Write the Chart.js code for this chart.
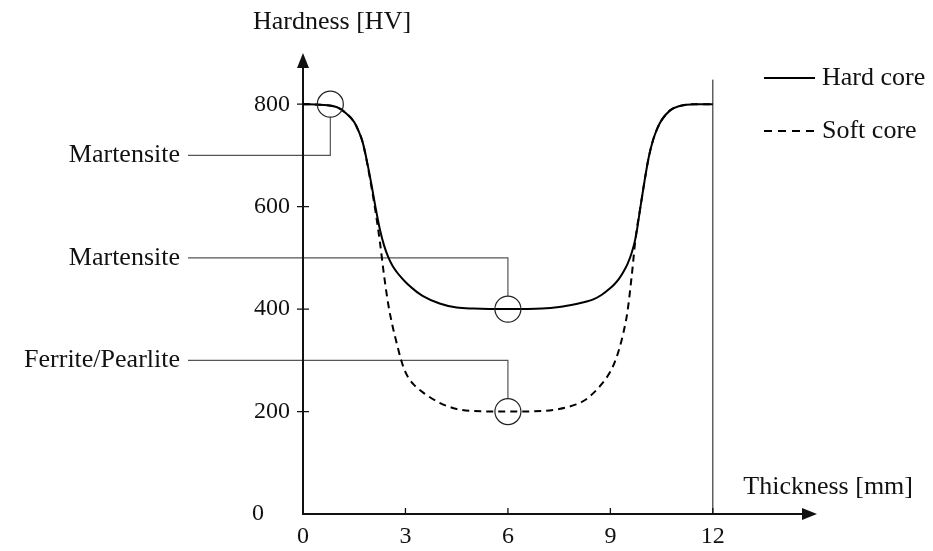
<!DOCTYPE html>
<html>
<head>
<meta charset="utf-8">
<script src="https://cdn.jsdelivr.net/npm/chart.js@4/dist/chart.umd.min.js"></script>
<style>
  html, body { margin: 0; padding: 0; background: #fff; }
</style>
</head>
<body>
<canvas id="chart" width="933" height="551"></canvas>
<script>
'use strict';

// hardness profile across the section, thickness in mm
const thickness = [0, 0.5, 1, 1.25, 1.5, 1.625, 1.75, 1.875, 2, 2.125, 2.25, 2.375, 2.5, 2.625, 2.75, 2.875, 3, 3.125, 3.25, 3.5, 4, 4.5, 5, 6, 7, 7.5, 8, 8.25, 8.5, 8.75, 9, 9.125, 9.25, 9.375, 9.5, 9.625, 9.75, 9.875, 10, 10.125, 10.25, 10.375, 10.5, 10.75, 11, 11.5, 12];
const hardCore = [800, 799, 794, 783, 765, 748, 725, 688, 645, 598, 556, 524, 501, 484, 472, 462, 453, 445, 438, 426, 411, 403, 401, 400, 401, 404, 410, 414, 419, 428, 441, 449, 459, 472, 488, 510, 543, 597, 650, 697, 730, 753, 769, 788, 796, 800, 800];
const softCore = [800, 799, 794, 783, 765, 748, 725, 686, 640, 590, 532, 465, 408, 366, 332, 300, 277, 262, 252, 238, 217, 205, 201, 200, 201, 205, 214, 222, 236, 254, 278, 296, 320, 352, 395, 465, 545, 597, 650, 697, 730, 753, 769, 788, 796, 800, 800];
const seriesNames = ['Hard core', 'Soft core'];

const tickX = [0, 3, 6, 9, 12];
const tickY = [200, 400, 600, 800];

// circled spots with their structure labels
const markX = [0.8, 6, 6];
const markY = [800, 400, 200];
const leaderY = [700, 500, 300];
const markLabels = ['Martensite', 'Martensite', 'Ferrite/Pearlite'];

const edgeX = 12;
const edgeTop = 848;

const TEXT_FONT = '26px "Liberation Serif", "DejaVu Serif", serif';
const NUM_FONT = '24px "Liberation Serif", "DejaVu Serif", serif';
const INK = '#111';
const R = 13;

const toPoints = (xs, ys) => xs.map((v, i) => ({ x: v, y: ys[i] }));

const arrow = (ctx, tipX, tipY, dir) => {
    ctx.beginPath();
    if (dir === 'right') {
        ctx.moveTo(tipX, tipY);
        ctx.lineTo(tipX - 15, tipY - 6);
        ctx.lineTo(tipX - 15, tipY + 6);
    } else {
        ctx.moveTo(tipX, tipY);
        ctx.lineTo(tipX - 6, tipY + 15);
        ctx.lineTo(tipX + 6, tipY + 15);
    }
    ctx.closePath();
    ctx.fill();
};

const sketchPlugin = {
    id: 'sketch_axes',
    beforeDatasetsDraw: (chart) => {
        const { ctx, chartArea, scales: { x, y } } = chart;
        const x0 = x.getPixelForValue(0);
        const y0 = y.getPixelForValue(0);
        ctx.save();

        // leader lines from the labels to the circled spots
        ctx.strokeStyle = '#555';
        ctx.lineWidth = 1.2;
        markX.forEach((mx, i) => {
            const px = x.getPixelForValue(mx);
            const py = y.getPixelForValue(markY[i]);
            const ly = y.getPixelForValue(leaderY[i]);
            const end = ly > py ? py + R : py - R;
            ctx.beginPath();
            ctx.moveTo(x0 - 115, ly);
            ctx.lineTo(px, ly);
            ctx.lineTo(px, end);
            ctx.stroke();
        });

        // right edge of the section
        ctx.strokeStyle = INK;
        ctx.lineWidth = 1;
        const ex = x.getPixelForValue(edgeX);
        ctx.beginPath();
        ctx.moveTo(ex, y0);
        ctx.lineTo(ex, y.getPixelForValue(edgeTop));
        ctx.stroke();

        // axes with arrow heads
        ctx.lineWidth = 2;
        ctx.fillStyle = INK;
        ctx.beginPath();
        ctx.moveTo(x0, y0);
        ctx.lineTo(chartArea.right - 10, y0);
        ctx.moveTo(x0, y0 + 1);
        ctx.lineTo(x0, chartArea.top + 10);
        ctx.stroke();
        arrow(ctx, chartArea.right, y0, 'right');
        arrow(ctx, x0, chartArea.top, 'up');

        // ticks
        ctx.lineWidth = 1.3;
        ctx.beginPath();
        tickX.forEach(v => {
            const px = x.getPixelForValue(v);
            ctx.moveTo(px, y0);
            ctx.lineTo(px, y0 - 6);
        });
        tickY.forEach(v => {
            const py = y.getPixelForValue(v);
            ctx.moveTo(x0 - 6, py);
            ctx.lineTo(x0 + 6, py);
        });
        ctx.stroke();

        // tick labels
        ctx.font = NUM_FONT;
        ctx.textBaseline = 'middle';
        ctx.textAlign = 'center';
        tickX.forEach(v => ctx.fillText(String(v), x.getPixelForValue(v), y0 + 23));
        ctx.textAlign = 'right';
        tickY.forEach(v => ctx.fillText(String(v), x0 - 13, y.getPixelForValue(v)));
        ctx.textAlign = 'center';
        ctx.fillText('0', x0 - 45, y0);

        // axis titles
        ctx.font = TEXT_FONT;
        ctx.fillText('Hardness [HV]', x0 + 29, 22);
        ctx.textAlign = 'right';
        ctx.fillText('Thickness [mm]', chartArea.right + 96, y0 - 27);

        // structure labels
        markX.forEach((mx, i) => {
            ctx.fillText(markLabels[i], x0 - 123, y.getPixelForValue(leaderY[i]));
        });
        ctx.restore();
    },
    afterDatasetsDraw: (chart) => {
        const { ctx, scales: { x, y } } = chart;
        ctx.save();
        ctx.strokeStyle = '#222';
        ctx.lineWidth = 1.2;
        markX.forEach((mx, i) => {
            ctx.beginPath();
            ctx.arc(x.getPixelForValue(mx), y.getPixelForValue(markY[i]), R, 0, Math.PI * 2);
            ctx.stroke();
        });

        // legend
        ctx.font = TEXT_FONT;
        ctx.fillStyle = INK;
        ctx.textAlign = 'left';
        ctx.textBaseline = 'middle';
        chart.data.datasets.forEach((ds, i) => {
            const ly = 78 + i * 53;
            ctx.strokeStyle = ds.borderColor;
            ctx.lineWidth = ds.borderWidth;
            ctx.setLineDash(ds.borderDash ? [8, 6] : []);
            ctx.beginPath();
            ctx.moveTo(764, ly);
            ctx.lineTo(815, ly);
            ctx.stroke();
            ctx.setLineDash([]);
            ctx.fillText(ds.label, 822, ly);
        });
        ctx.restore();
    }
};

const data = {
    datasets: [{
        label: seriesNames[0],
        data: toPoints(thickness, hardCore),
        borderColor: '#000',
        borderWidth: 2,
        pointRadius: 0,
        cubicInterpolationMode: 'monotone'
    }, {
        label: seriesNames[1],
        data: toPoints(thickness, softCore),
        borderColor: '#000',
        borderWidth: 2,
        borderDash: [7, 5],
        pointRadius: 0,
        cubicInterpolationMode: 'monotone'
    }]
};

const options = {
    responsive: false,
    animation: false,
    layout: {
        padding: { left: 303, right: 116, top: 53, bottom: 37 }
    },
    scales: {
        x: { type: 'linear', min: 0, max: 15.05, display: false },
        y: { min: 0, max: 900, display: false }
    },
    plugins: {
        legend: { display: false },
        tooltip: { enabled: false }
    }
};

new Chart(document.getElementById('chart'), {
    type: 'line',
    data: data,
    options: options,
    plugins: [sketchPlugin]
});
</script>
</body>
</html>
